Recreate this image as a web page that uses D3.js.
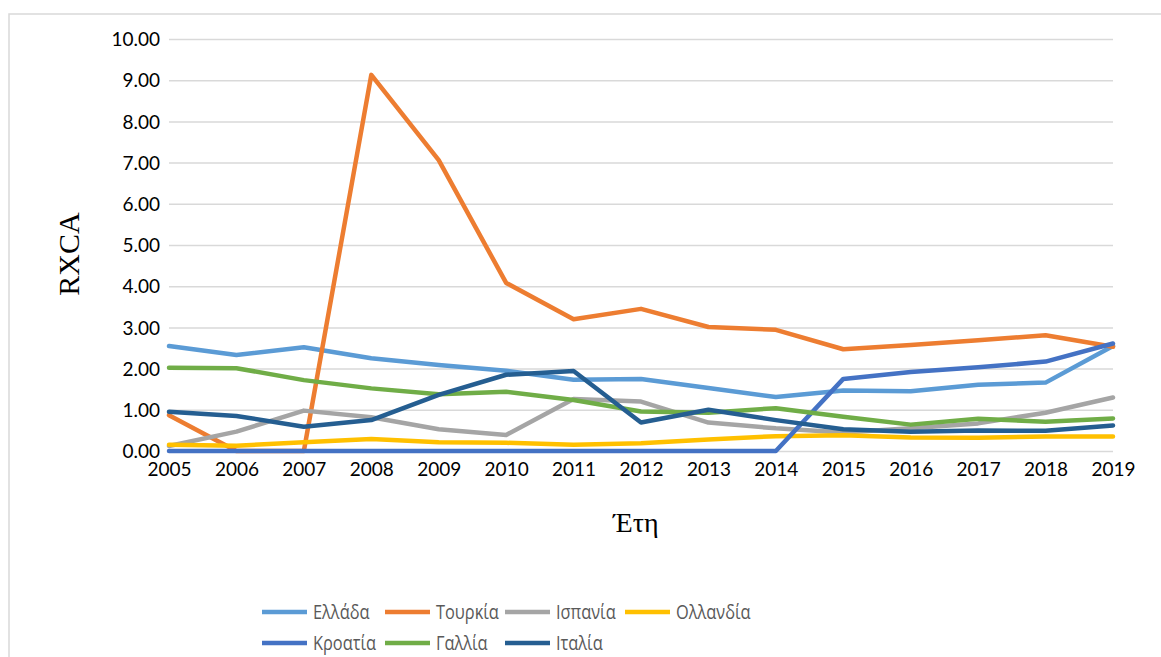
<!DOCTYPE html>
<html lang="el">
<head>
    <meta charset="UTF-8">
    <title>RXCA</title>
    <script src="https://d3js.org/d3.v7.min.js"></script>
    <style>
        body { margin: 0; background: #fff; }
        .tick text { font-family: Lato, "Open Sans", sans-serif; font-size: 19px; fill: #000; }
        .legend text { font-family: "Open Sans", "Noto Sans", sans-serif; font-size: 20px; fill: #595959; }
        .title { font-family: "Liberation Serif", "DejaVu Serif", serif; fill: #000; }
    </style>
</head>
<body>
<div id="chart"></div>
<script>
    // Data
    const years = [2005, 2006, 2007, 2008, 2009, 2010, 2011, 2012, 2013, 2014, 2015, 2016, 2017, 2018, 2019];
    const yTicks = [0, 1, 2, 3, 4, 5, 6, 7, 8, 9, 10];

    const greece  = [2.55, 2.33, 2.52, 2.25, 2.09, 1.95, 1.73, 1.75, 1.53, 1.31, 1.47, 1.45, 1.61, 1.66, 2.55];
    const turkey  = [0.87, 0.00, 0.00, 9.13, 7.06, 4.08, 3.20, 3.45, 3.01, 2.94, 2.47, 2.57, 2.69, 2.81, 2.53];
    const spain   = [0.12, 0.47, 0.98, 0.82, 0.53, 0.39, 1.26, 1.20, 0.69, 0.55, 0.45, 0.55, 0.67, 0.93, 1.30];
    const nether  = [0.15, 0.13, 0.21, 0.29, 0.21, 0.20, 0.15, 0.19, 0.28, 0.36, 0.38, 0.33, 0.32, 0.35, 0.35];
    const croatia = [0, 0, 0, 0, 0, 0, 0, 0, 0, 0, 1.75, 1.92, 2.03, 2.17, 2.61];
    const france  = [2.02, 2.01, 1.72, 1.52, 1.38, 1.44, 1.24, 0.96, 0.93, 1.04, 0.83, 0.64, 0.78, 0.71, 0.79];
    const italy   = [0.95, 0.85, 0.59, 0.75, 1.36, 1.85, 1.94, 0.69, 1.00, 0.75, 0.53, 0.47, 0.50, 0.49, 0.62];

    const seriesNames  = ["Ελλάδα", "Τουρκία", "Ισπανία", "Ολλανδία", "Κροατία", "Γαλλία", "Ιταλία"];
    const seriesValues = [greece, turkey, spain, nether, croatia, france, italy];
    const seriesColors = ["#5B9BD5", "#ED7D31", "#A5A5A5", "#FFC000", "#4472C4", "#70AD47", "#255E91"];

    const width = 1161, height = 657;
    const plot = { left: 169, right: 1113, top: 39, bottom: 451 };

    const svg = d3.select("#chart").append("svg")
        .attr("width", width)
        .attr("height", height);

    // outer chart frame
    svg.append("rect")
        .attr("x", 9).attr("y", 14)
        .attr("width", width + 10).attr("height", height + 10)
        .attr("fill", "none")
        .attr("stroke", "#d9d9d9")
        .attr("stroke-width", 1.5);

    const x = d3.scalePoint()
        .domain(years)
        .range([plot.left, plot.right]);

    const y = d3.scaleLinear()
        .domain([0, 10])
        .range([plot.bottom, plot.top]);

    // gridlines + y labels
    const yAxis = svg.append("g")
        .attr("transform", `translate(${plot.left},0)`)
        .call(d3.axisLeft(y).tickValues(yTicks).tickFormat(d3.format(".2f"))
            .tickSize(-(plot.right - plot.left)).tickPadding(9));
    yAxis.select(".domain").remove();
    yAxis.selectAll(".tick line").attr("stroke", "#d9d9d9").attr("stroke-width", 1.5);
    yAxis.selectAll(".tick text").attr("dy", "0.35em");

    // x labels
    const xAxis = svg.append("g")
        .attr("transform", `translate(0,${plot.bottom})`)
        .call(d3.axisBottom(x).tickSize(0).tickPadding(12));
    xAxis.select(".domain").remove();

    // lines
    const line = d3.line()
        .x((d, i) => x(years[i]))
        .y(d => y(d));

    svg.append("g").selectAll("path")
        .data(seriesValues)
        .enter().append("path")
        .attr("d", line)
        .attr("fill", "none")
        .attr("stroke", (d, i) => seriesColors[i])
        .attr("stroke-width", 4.5)
        .attr("stroke-linejoin", "round")
        .attr("stroke-linecap", "round");

    // axis titles
    svg.append("text")
        .attr("class", "title")
        .attr("transform", "translate(79,254) rotate(-90)")
        .attr("text-anchor", "middle")
        .attr("font-size", 30)
        .text("RXCA");

    svg.append("text")
        .attr("class", "title")
        .attr("x", 636).attr("y", 532)
        .attr("text-anchor", "middle")
        .attr("font-size", 28)
        .text("Έτη");

    // legend
    const legendX = [262, 385, 505, 625];
    const legendY = [612, 643];
    const legend = svg.append("g").attr("class", "legend")
        .selectAll("g")
        .data(seriesNames)
        .enter().append("g")
        .attr("transform", (d, i) => `translate(${legendX[i % 4]},${legendY[Math.floor(i / 4)]})`);

    legend.append("line")
        .attr("x1", 0).attr("x2", 45)
        .attr("stroke", (d, i) => seriesColors[i])
        .attr("stroke-width", 4.5);

    // legend font in the original is a narrow face, so squeeze horizontally
    legend.append("text")
        .attr("transform", "translate(51,0) scale(0.82,1)")
        .attr("dy", "0.35em")
        .text(d => d);
</script>
</body>
</html>
